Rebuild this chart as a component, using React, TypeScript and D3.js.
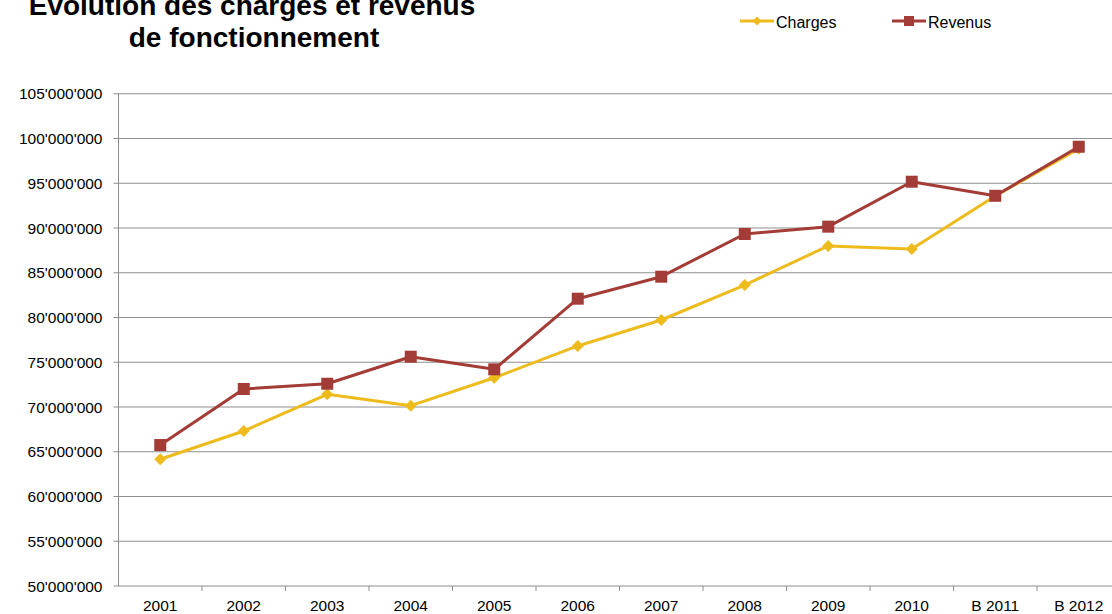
import React from 'react'
import { scaleBand, scaleLinear, line } from 'd3'

const years = ['2001', '2002', '2003', '2004', '2005', '2006', '2007', '2008', '2009', '2010', 'B 2011', 'B 2012']
const charges = [64160000, 67320000, 71420000, 70150000, 73270000, 76820000, 79720000, 83630000, 88000000, 87650000, 93580000, 98850000]
const revenus = [65750000, 72010000, 72600000, 75620000, 74210000, 82100000, 84560000, 89330000, 90150000, 95170000, 93600000, 99080000]
const yTicks = [50000000, 55000000, 60000000, 65000000, 70000000, 75000000, 80000000, 85000000, 90000000, 95000000, 100000000, 105000000]

const W = 1112
const H = 614
const left = 118.5
const right = 1120.5
const top = 93.75
const bottom = 586
const font = '"Liberation Sans", Arial, sans-serif'
const yellow = '#eebb1c'
const red = '#a33b36'

// 105000000 -> 105'000'000
const fmt = (v: number) => String(v).replace(/\B(?=(\d{3})+(?!\d))/g, "'")

export default function App() {
  const x = scaleBand<string>().domain(years).range([left, right]).padding(0)
  const y = scaleLinear().domain([50000000, 105000000]).range([bottom, top])
  const cx = (i: number) => (x(years[i]) as number) + x.bandwidth() / 2

  const path = line<number>()
    .x((d, i) => cx(i))
    .y(d => y(d))

  return (
    <svg width={W} height={H} style={{ position: 'absolute', left: 0, top: 0, fontFamily: font }}>
      <rect width={W} height={H} fill="#fff" />
      {/* title, first line cut by the top edge as in the original */}
      <text x={252} y={15} textAnchor="middle" fontSize={28} fontWeight="bold" fill="#000">Evolution des charges et revenus</text>
      <text x={254} y={47} textAnchor="middle" fontSize={28} fontWeight="bold" fill="#000">de fonctionnement</text>

      {/* legend */}
      <g>
        <line x1={740} x2={774} y1={21} y2={21} stroke={yellow} strokeWidth={3} />
        <path d="M757,16.5 L761.5,21 L757,25.5 L752.5,21 Z" fill={yellow} />
        <text x={776} y={27.5} fontSize={16} fill="#000">Charges</text>
        <line x1={892} x2={926} y1={21} y2={21} stroke={red} strokeWidth={3} />
        <rect x={904} y={16} width={10} height={10} fill={red} />
        <text x={928} y={27.5} fontSize={16} fill="#000">Revenus</text>
      </g>

      {/* grid + y axis */}
      {yTicks.map(t => (
        <g key={t}>
          <line x1={left - 5} x2={W} y1={y(t)} y2={y(t)} stroke="#8e8e8e" strokeWidth={1} />
          <text x={102.5} y={y(t) + 5.5} textAnchor="end" fontSize={15.5} fill="#000">{fmt(t)}</text>
        </g>
      ))}
      <line x1={left} x2={left} y1={top} y2={bottom} stroke="#8e8e8e" strokeWidth={1} />

      {/* x axis */}
      {years.map((yr, i) => (
        <g key={yr}>
          <line x1={(x(yr) as number) + x.bandwidth()} x2={(x(yr) as number) + x.bandwidth()} y1={bottom} y2={bottom + 5} stroke="#8e8e8e" />
          <text x={cx(i)} y={611} textAnchor="middle" fontSize={15.5} fill="#000">{yr}</text>
        </g>
      ))}

      {/* series */}
      <path d={path(charges) ?? ''} fill="none" stroke={yellow} strokeWidth={3} strokeLinejoin="round" />
      {charges.map((v, i) => (
        <path key={'c' + i} d={`M${cx(i)},${y(v) - 6} L${cx(i) + 6},${y(v)} L${cx(i)},${y(v) + 6} L${cx(i) - 6},${y(v)} Z`} fill={yellow} />
      ))}
      <path d={path(revenus) ?? ''} fill="none" stroke={red} strokeWidth={3} strokeLinejoin="round" />
      {revenus.map((v, i) => (
        <rect key={'r' + i} x={cx(i) - 6} y={y(v) - 6} width={12} height={12} fill={red} />
      ))}
    </svg>
  )
}
